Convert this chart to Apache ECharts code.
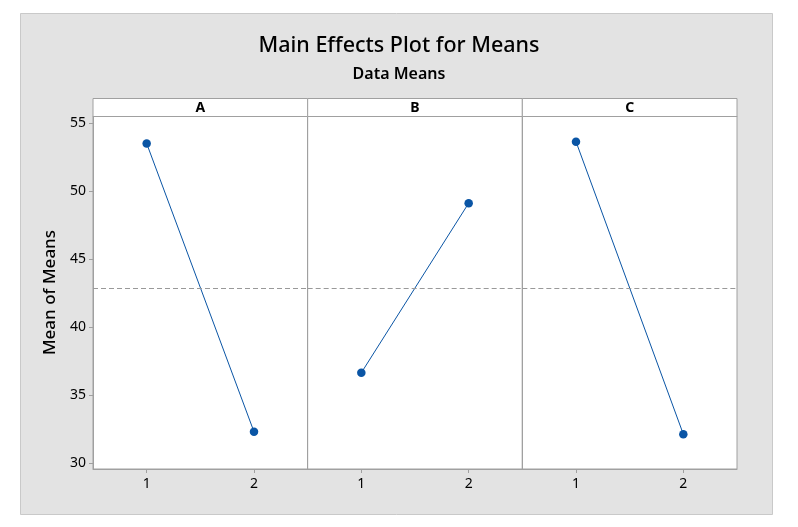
<!DOCTYPE html>
<html>
<head>
<meta charset="utf-8">
<script src="https://cdn.jsdelivr.net/npm/echarts@6/dist/echarts.min.js"></script>
<style>
html,body{margin:0;padding:0;background:#fff;}
#chart{width:798px;height:527px;}
</style>
</head>
<body>
<div id="chart"></div>
<script>
// ---- data ----
var panels = ['A', 'B', 'C'];
var levels = ['1', '2'];
var meansA = [53.52, 32.28];
var meansB = [36.63, 49.12];
var meansC = [53.65, 32.10];
var yTicks = [30, 35, 40, 45, 50, 55];
var titleText = 'Main Effects Plot for Means';
var subtitleText = 'Data Means';
var yAxisName = 'Mean of Means';

// ---- layout / style ----
var FONT = 'Noto Sans';
var plotLeft = 93, plotRight = 737, plotTop = 116, plotBottom = 469, headerTop = 98;
var panelW = (plotRight - plotLeft) / panels.length;
var yMin = 29.54, yMax = 55.54;
var lineColor = '#0a55a5';
var frameColor = '#a0a0a0';

var allSeries = [meansA, meansB, meansC];
var flat = [].concat.apply([], allSeries);
var grandMean = flat.reduce(function (s, v) { return s + v; }, 0) / flat.length;

var grids = [], xAxes = [], yAxes = [], series = [], graphics = [];

graphics.push({
  type: 'rect', z: -10, silent: true,
  shape: { x: 20.5, y: 13.5, width: 752, height: 501 },
  style: { fill: '#e3e3e3', stroke: '#c9c9c9', lineWidth: 1 }
});

panels.forEach(function (name, i) {
  var left = plotLeft + i * panelW;
  grids.push({
    left: left, top: plotTop, width: panelW, height: plotBottom - plotTop,
    show: true, backgroundColor: '#ffffff', borderColor: frameColor, borderWidth: 1
  });
  xAxes.push({
    type: 'category', gridIndex: i, data: levels, boundaryGap: true,
    axisLine: { show: true, lineStyle: { color: frameColor } },
    axisTick: { show: true, alignWithLabel: true, length: 4, lineStyle: { color: frameColor } },
    axisLabel: { color: '#000', fontFamily: FONT, fontSize: 14, margin: 8 },
    splitLine: { show: false }
  });
  yAxes.push({
    type: 'value', gridIndex: i, min: yMin, max: yMax,
    name: i === 0 ? yAxisName : '',
    nameLocation: 'middle', nameGap: 34, nameRotate: 90,
    nameTextStyle: { color: '#000', fontFamily: FONT, fontSize: 17, fontWeight: 500 },
    axisLine: { show: true, lineStyle: { color: frameColor } },
    axisTick: { show: i === 0, length: 4, customValues: yTicks, lineStyle: { color: frameColor } },
    axisLabel: { show: i === 0, color: '#000', fontFamily: FONT, fontSize: 14, margin: 7, customValues: yTicks },
    splitLine: { show: false }
  });
  series.push({
    type: 'line', xAxisIndex: i, yAxisIndex: i, data: allSeries[i],
    symbol: 'circle', symbolSize: 8.5, showSymbol: true,
    lineStyle: { color: lineColor, width: 1 },
    itemStyle: { color: lineColor },
    emphasis: { disabled: true },
    markLine: {
      silent: true, symbol: ['none', 'none'], label: { show: false },
      lineStyle: { color: '#999999', type: [5, 3], width: 1 },
      data: [{ yAxis: grandMean }]
    }
  });
  // header strip
  graphics.push({
    type: 'rect', silent: true, z: 5,
    shape: { x: left, y: headerTop + 0.5, width: panelW, height: plotTop - headerTop },
    style: { fill: '#ffffff', stroke: frameColor, lineWidth: 1 }
  });
  graphics.push({
    type: 'text', silent: true, z: 6,
    x: left + panelW / 2, y: (headerTop + plotTop) / 2 + 1,
    style: { text: name, fill: '#000', font: 'bold 14px "' + FONT + '"', align: 'center', verticalAlign: 'middle' }
  });
});

var chart = echarts.init(document.getElementById('chart'), null, { renderer: 'canvas' });
chart.setOption({
  backgroundColor: '#ffffff',
  animation: false,
  title: [
    { text: titleText, left: 'center', top: 30,
      textStyle: { color: '#000', fontFamily: FONT, fontSize: 21.5, fontWeight: 500 } },
    { text: subtitleText, left: 'center', top: 61,
      textStyle: { color: '#000', fontFamily: FONT, fontSize: 16, fontWeight: 600 } }
  ],
  grid: grids,
  xAxis: xAxes,
  yAxis: yAxes,
  series: series,
  graphic: graphics
});
</script>
</body>
</html>
